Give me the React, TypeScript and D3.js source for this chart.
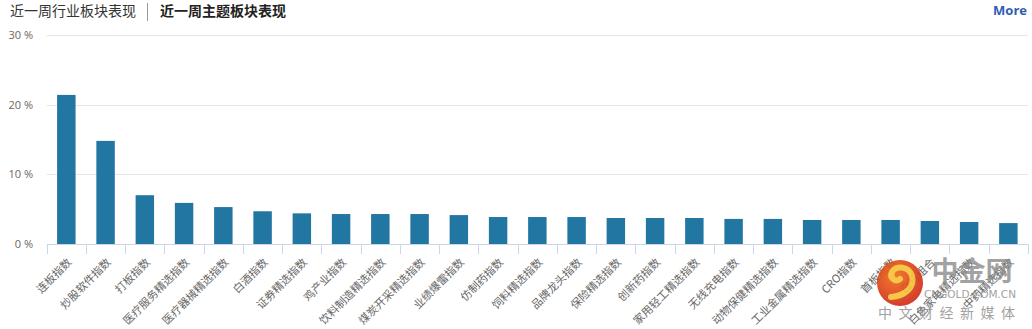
import React from "react";
import * as d3 from "d3";

const categories: string[] = [
  "连板指数", "炒股软件指数", "打板指数", "医疗服务精选指数", "医疗器械精选指数",
  "白酒指数", "证券精选指数", "鸡产业指数", "饮料制造精选指数", "煤炭开采精选指数",
  "业绩爆雷指数", "仿制药指数", "饲料精选指数", "品牌龙头指数", "保险精选指数",
  "创新药指数", "家用轻工精选指数", "无线充电指数", "动物保健精选指数", "工业金属精选指数",
  "CRO指数", "首板指数", "白马组合", "白色家电精选指数", "中药精选指数",
];
const values: number[] = [
  21.4, 14.8, 7.0, 5.9, 5.3, 4.7, 4.4, 4.3, 4.3, 4.3, 4.15, 3.87, 3.87, 3.87, 3.73,
  3.73, 3.73, 3.6, 3.6, 3.45, 3.45, 3.45, 3.3, 3.16, 3.0,
];
const yTicks: number[] = [0, 10, 20, 30];
const tabs: string[] = ["近一周行业板块表现", "近一周主题板块表现"];

const W = 1032;
const H = 329;
const FONT = '"Noto Sans CJK SC", "Noto Sans", Lato, sans-serif';

export default function App() {
  const x = d3.scaleBand<string>().domain(categories).range([46.7, 1028]).padding(0);
  const y = d3.scaleLinear().domain([0, 30]).range([244, 35]);
  const bw = x.bandwidth();
  const barW = bw * 0.47;
  const boundaries = d3.range(categories.length + 1).map((i) => 46.7 + i * bw);

  return (
    <svg width={W} height={H} style={{ position: "absolute", left: 0, top: 0 }} fontFamily={FONT}>
      <rect width={W} height={H} fill="#fff" />
      {/* header */}
      <text x={10} y={16} fontSize={14} fill="#333">{tabs[0]}</text>
      <line x1={147.5} x2={147.5} y1={3} y2={21} stroke="#999" />
      <text x={160} y={16} fontSize={14} fill="#222" fontWeight="bold">{tabs[1]}</text>
      <text x={1027} y={15} fontSize={13} fill="#2f5db5" fontWeight="bold" textAnchor="end"
        fontFamily='"Open Sans", "DejaVu Sans", sans-serif'>More</text>

      {/* grid */}
      {yTicks.filter((t) => t > 0).map((t) => (
        <line key={t} x1={46.7} x2={1028} y1={Math.round(y(t)) + 0.5} y2={Math.round(y(t)) + 0.5} stroke="#e6e6e6" />
      ))}
      {yTicks.map((t) => (
        <text key={"l" + t} x={33} y={y(t) + 4} fontSize={11} fill="#666" textAnchor="end"
          fontFamily='"Open Sans", "DejaVu Sans", sans-serif'>{t} %</text>
      ))}

      {/* bars */}
      {categories.map((c, i) => (
        <rect key={c} x={(x(c) as number) + (bw - barW) / 2} y={y(values[i])}
          width={barW} height={y(0) - y(values[i])} fill="#2176a2" />
      ))}

      {/* axis */}
      <line x1={46.7} x2={1028} y1={244.5} y2={244.5} stroke="#ccd6eb" />
      {boundaries.map((b, i) => (
        <line key={"t" + i} x1={Math.round(b) + 0.5} x2={Math.round(b) + 0.5} y1={244} y2={254} stroke="#ccd6eb" />
      ))}
      {categories.map((c) => {
        const cx = (x(c) as number) + bw / 2 + 6;
        const cy = 263;
        return (
          <text key={"x" + c} x={cx} y={cy} fontSize={11} fill="#666" textAnchor="end"
            transform={`rotate(-45 ${cx} ${cy})`}>{c}</text>
        );
      })}

      {/* watermark */}
      <defs>
        <radialGradient id="wm" cx="0.4" cy="0.35" r="0.7">
          <stop offset="0" stopColor="#f0701c" />
          <stop offset="1" stopColor="#cf2a1a" />
        </radialGradient>
      </defs>
      <g opacity={0.92}>
        <circle cx={900} cy={283} r={23} fill="url(#wm)" />
        <path d="M 891 297 C 905 296, 915 287, 912 276 C 909 266, 896 265, 892 272 C 889 278, 896 283, 900 279"
          fill="none" stroke="#f6c23a" strokeWidth={6} strokeLinecap="round" />
        <text x={972} y={281} fontSize={27} fontWeight="bold" fill="#8a8a8a" textAnchor="middle" opacity={0.85}>中金网</text>
        <text x={1016} y={298} fontSize={10.5} fill="#8a8a8a" textAnchor="end"
          fontFamily='"DejaVu Sans", sans-serif' opacity={0.85}>CNGOLD.COM.CN</text>
        <text x={878} y={318} fontSize={14} fill="#8a8a8a" letterSpacing={6.5} opacity={0.85}>中文财经新媒体</text>
      </g>
    </svg>
  );
}
